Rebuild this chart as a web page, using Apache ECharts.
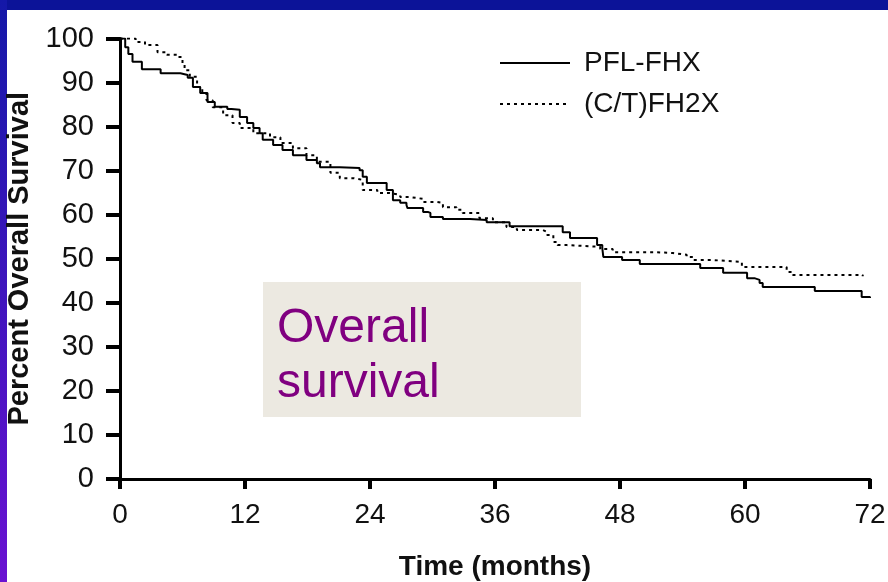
<!DOCTYPE html>
<html>
<head>
<meta charset="utf-8">
<script src="https://cdn.jsdelivr.net/npm/echarts@6/dist/echarts.min.js"></script>
<style>
  html, body { margin: 0; padding: 0; }
  #chart { width: 888px; height: 582px; }
</style>
</head>
<body>
<div id="chart"></div>
<script>
// 生存曲线数据（月份 / 百分比）
const monthsPFL = [0, 0.5, 0.8, 1.2, 2.1, 3.9, 5.8, 6.5, 7.0, 7.7, 8.4, 9.1, 10.3, 10.7, 11.5, 12.2, 12.8, 13.4, 13.7, 14.7, 15.6, 16.6, 17.9, 18.9, 19.2, 21.1, 23.0, 23.3, 23.7, 25.6, 26.2, 26.9, 27.5, 27.6, 29.1, 29.6, 29.8, 31.0, 33.6, 35.2, 37.4, 42.5, 43.2, 45.8, 46.3, 46.4, 48.2, 49.9, 55.7, 57.9, 60.2, 60.9, 61.4, 61.7, 66.7, 71.2, 72];
const survPFL = [100, 98, 96.5, 94.7, 93.0, 92.1, 91.7, 91.1, 89, 87.6, 85.6, 84.5, 84.0, 83.8, 82.2, 80.8, 79.7, 78.5, 77, 75.8, 74.7, 73.5, 72.4, 71.7, 70.8, 70.6, 70.1, 68.6, 67.2, 65.6, 63.3, 62.7, 62.2, 61.5, 60.6, 60.4, 59.5, 59.0, 58.8, 58.3, 57.4, 56.0, 54.7, 53.1, 52.4, 50.4, 49.7, 48.8, 47.9, 46.8, 45.6, 45.2, 44.5, 43.6, 42.7, 41.3, 41.1];

const monthsCT = [0, 1.5, 2.4, 3.6, 4.5, 5.5, 6.0, 6.2, 6.7, 7.4, 7.9, 8.3, 8.9, 9.9, 10.8, 11.5, 12.8, 14.4, 15.4, 16.6, 17.9, 18.9, 20.2, 21.1, 22.4, 23.3, 24.7, 25.9, 26.9, 27.8, 29.1, 30.4, 31.0, 32.3, 32.9, 34.5, 35.8, 37.1, 38.1, 40.6, 41.0, 41.6, 42.0, 42.9, 46.1, 47.3, 51.2, 53.1, 54.4, 55.0, 56.9, 59.7, 64.0, 64.6, 71.3];
const survCT = [100, 99.2, 98.5, 96.9, 96.3, 95.8, 94.4, 92.8, 91.3, 89, 87.6, 86, 84.4, 82.6, 80.8, 79.7, 78.5, 77.6, 76.3, 75.1, 73.5, 72, 69.5, 68.3, 67.9, 65.6, 64.9, 64.5, 64, 63.6, 62.9, 62.7, 61.7, 61.1, 60.4, 59.2, 58.3, 57.2, 56.5, 56.1, 55.4, 53.8, 53.1, 52.7, 52.2, 51.5, 51.3, 50.9, 50.4, 49.7, 49.3, 48.1, 47.0, 46.3, 46.0];

const seriesNames = ["PFL-FHX", "(C/T)FH2X"];
const xTicks = [0, 12, 24, 36, 48, 60, 72];
const yTicks = [0, 10, 20, 30, 40, 50, 60, 70, 80, 90, 100];
const boxText = "Overall\nsurvival";

const font = "'Liberation Sans', Arial, sans-serif";

function pairs(xs, ys) {
  let out = [];
  for (let i = 0; i < xs.length; i++) {
    out.push([xs[i], ys[i]]);
  }
  return out;
}

const myChart = echarts.init(document.getElementById("chart"));
myChart.setOption({
  backgroundColor: "#ffffff",
  animation: false,
  textStyle: { fontFamily: font },
  graphic: [
    // 外框
    { type: "rect", left: 0, top: 0, shape: { width: 888, height: 10 }, style: { fill: "#0c1398" }, silent: true },
    {
      type: "rect", left: 0, top: 0, shape: { width: 7, height: 582 },
      style: {
        fill: new echarts.graphic.LinearGradient(0, 0, 0, 1, [
          { offset: 0, color: "#1418a8" },
          { offset: 1, color: "#6a12d2" },
        ]),
      },
      silent: true,
    },
    // 注释框
    { type: "rect", left: 263, top: 282, shape: { width: 318, height: 135 }, style: { fill: "#ece9e1" }, z: 1, silent: true },
    {
      type: "text", left: 277, top: 301, z: 2, silent: true,
      style: { text: boxText, fill: "#800080", fontSize: 48, lineHeight: 55, fontFamily: font },
    },
  ],
  legend: {
    orient: "vertical",
    left: 494,
    top: 44,
    itemWidth: 70,
    itemHeight: 14,
    itemGap: 13,
    data: seriesNames,
    itemStyle: { opacity: 0 },
    textStyle: { fontSize: 28, color: "#111", fontFamily: font, padding: [0, 0, 0, 9] },
  },
  grid: { left: 120, right: 18, top: 38.5, bottom: 103, outerBoundsMode: "none" },
  xAxis: {
    type: "value",
    min: xTicks[0],
    max: xTicks[xTicks.length - 1],
    interval: 12,
    name: "Time (months)",
    nameLocation: "middle",
    nameGap: 74,
    nameTextStyle: { fontSize: 28, fontWeight: "bold", color: "#111" },
    axisLine: { lineStyle: { color: "#000", width: 3 } },
    axisTick: { length: 10, lineStyle: { color: "#000", width: 4 } },
    axisLabel: { fontSize: 28, color: "#111", margin: 22 },
    splitLine: { show: false },
  },
  yAxis: {
    type: "value",
    min: yTicks[0],
    max: yTicks[yTicks.length - 1],
    interval: 10,
    name: "Percent Overall Survival",
    nameLocation: "middle",
    nameGap: 78,
    nameTextStyle: { fontSize: 29, fontWeight: "bold", color: "#111" },
    axisLine: { lineStyle: { color: "#000", width: 3 } },
    axisTick: { length: 14, lineStyle: { color: "#000", width: 4 } },
    axisLabel: { fontSize: 29, color: "#111", margin: 26 },
    splitLine: { show: false },
  },
  series: [
    {
      name: seriesNames[0],
      type: "line",
      step: "end",
      symbol: "none",
      data: pairs(monthsPFL, survPFL),
      lineStyle: { color: "#000", width: 2 },
      itemStyle: { color: "#000" },
      z: 3,
    },
    {
      name: seriesNames[1],
      type: "line",
      step: "end",
      symbol: "none",
      data: pairs(monthsCT, survCT),
      lineStyle: { color: "#000", width: 2, type: [3, 4] },
      itemStyle: { color: "#000" },
      z: 3,
    },
  ],
});
</script>
</body>
</html>
